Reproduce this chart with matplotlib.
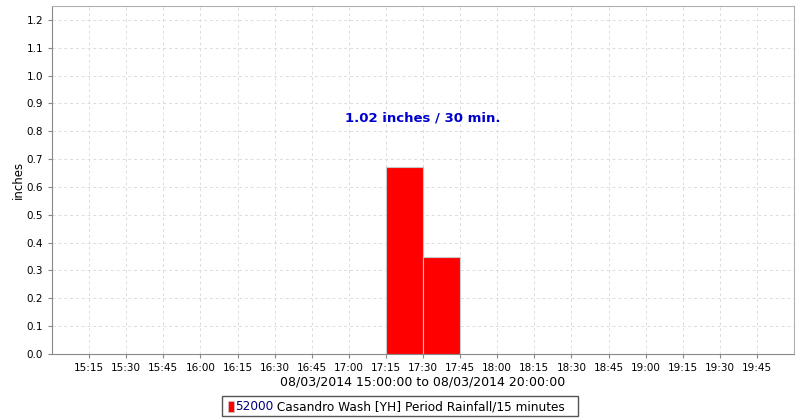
import matplotlib
matplotlib.use("Agg")
import matplotlib.pyplot as plt
import matplotlib.dates as mdates
import pandas as pd
from matplotlib.patches import Rectangle

# dados do gráfico
inicio = "2014-08-03 15:00"
fim = "2014-08-03 20:00"
horarios = ["2014-08-03 17:15", "2014-08-03 17:30"]
chuva = [0.67, 0.35]
total_txt = "1.02 inches / 30 min."
estacao = "52000"
serie = " Casandro Wash [YH] Period Rainfall/15 minutes"
xlabel = "08/03/2014 15:00:00 to 08/03/2014 20:00:00"

t = pd.to_datetime(horarios)
t0, t1 = pd.Timestamp(inicio), pd.Timestamp(fim)

fig = plt.figure(figsize=(8, 4.2), dpi=100)
ax = fig.add_axes([0.065, 0.157, 0.9275, 0.829])

largura = pd.Timedelta(minutes=15) / pd.Timedelta(days=1)
ax.bar(mdates.date2num(t), chuva, width=largura, align="edge",
       color="#ff0000", edgecolor="#c8c8c8", linewidth=0.8, zorder=3)

ax.set_xlim(mdates.date2num(t0), mdates.date2num(t1))
ax.set_ylim(0, 1.25)
ax.set_yticks([i / 10 for i in range(13)])
ax.set_yticklabels([f"{i / 10:.1f}" for i in range(13)])
ax.xaxis.set_major_formatter(mdates.DateFormatter("%H:%M"))
ticks = pd.date_range(t0 + pd.Timedelta(minutes=15), t1 - pd.Timedelta(minutes=15), freq="15min")
ax.set_xticks(mdates.date2num(ticks))

ax.grid(True, color="#dcdcdc", linestyle=(0, (3, 3)), linewidth=0.7, zorder=0)
ax.tick_params(labelsize=7.5, length=3, color="#888888", width=0.8)
for lado in ["left", "bottom"]:
    ax.spines[lado].set_color("#888888")
for lado in ["top", "right"]:
    ax.spines[lado].set_color("#b0b0b0")

ax.set_ylabel("inches", fontsize=8.5, labelpad=1)
ax.set_xlabel(xlabel, fontsize=9, labelpad=2)

ax.text(mdates.date2num(pd.Timestamp("2014-08-03 17:30")), 0.846, total_txt,
        color="#0000cc", fontweight="bold", fontsize=9.5, ha="center", va="center")

# legenda manual
fig.patches.append(Rectangle((222 / 800, 4 / 420), 356 / 800, 20 / 420,
                             transform=fig.transFigure, facecolor="white",
                             edgecolor="#555555", linewidth=1))
fig.patches.append(Rectangle((228 / 800, 8 / 420), 6 / 800, 11 / 420,
                             transform=fig.transFigure, facecolor="#ff0000",
                             edgecolor="#c8c8c8", linewidth=0.5))
t_est = fig.text(235 / 800, 13.5 / 420, estacao, color="#00007f", fontsize=8.7, va="center")
renderer = fig.canvas.get_renderer()
bb = t_est.get_window_extent(renderer)
fig.text(bb.x1 / 800, 13.5 / 420, serie, color="black", fontsize=8.7, va="center")

fig.savefig("out.png", dpi=100)
